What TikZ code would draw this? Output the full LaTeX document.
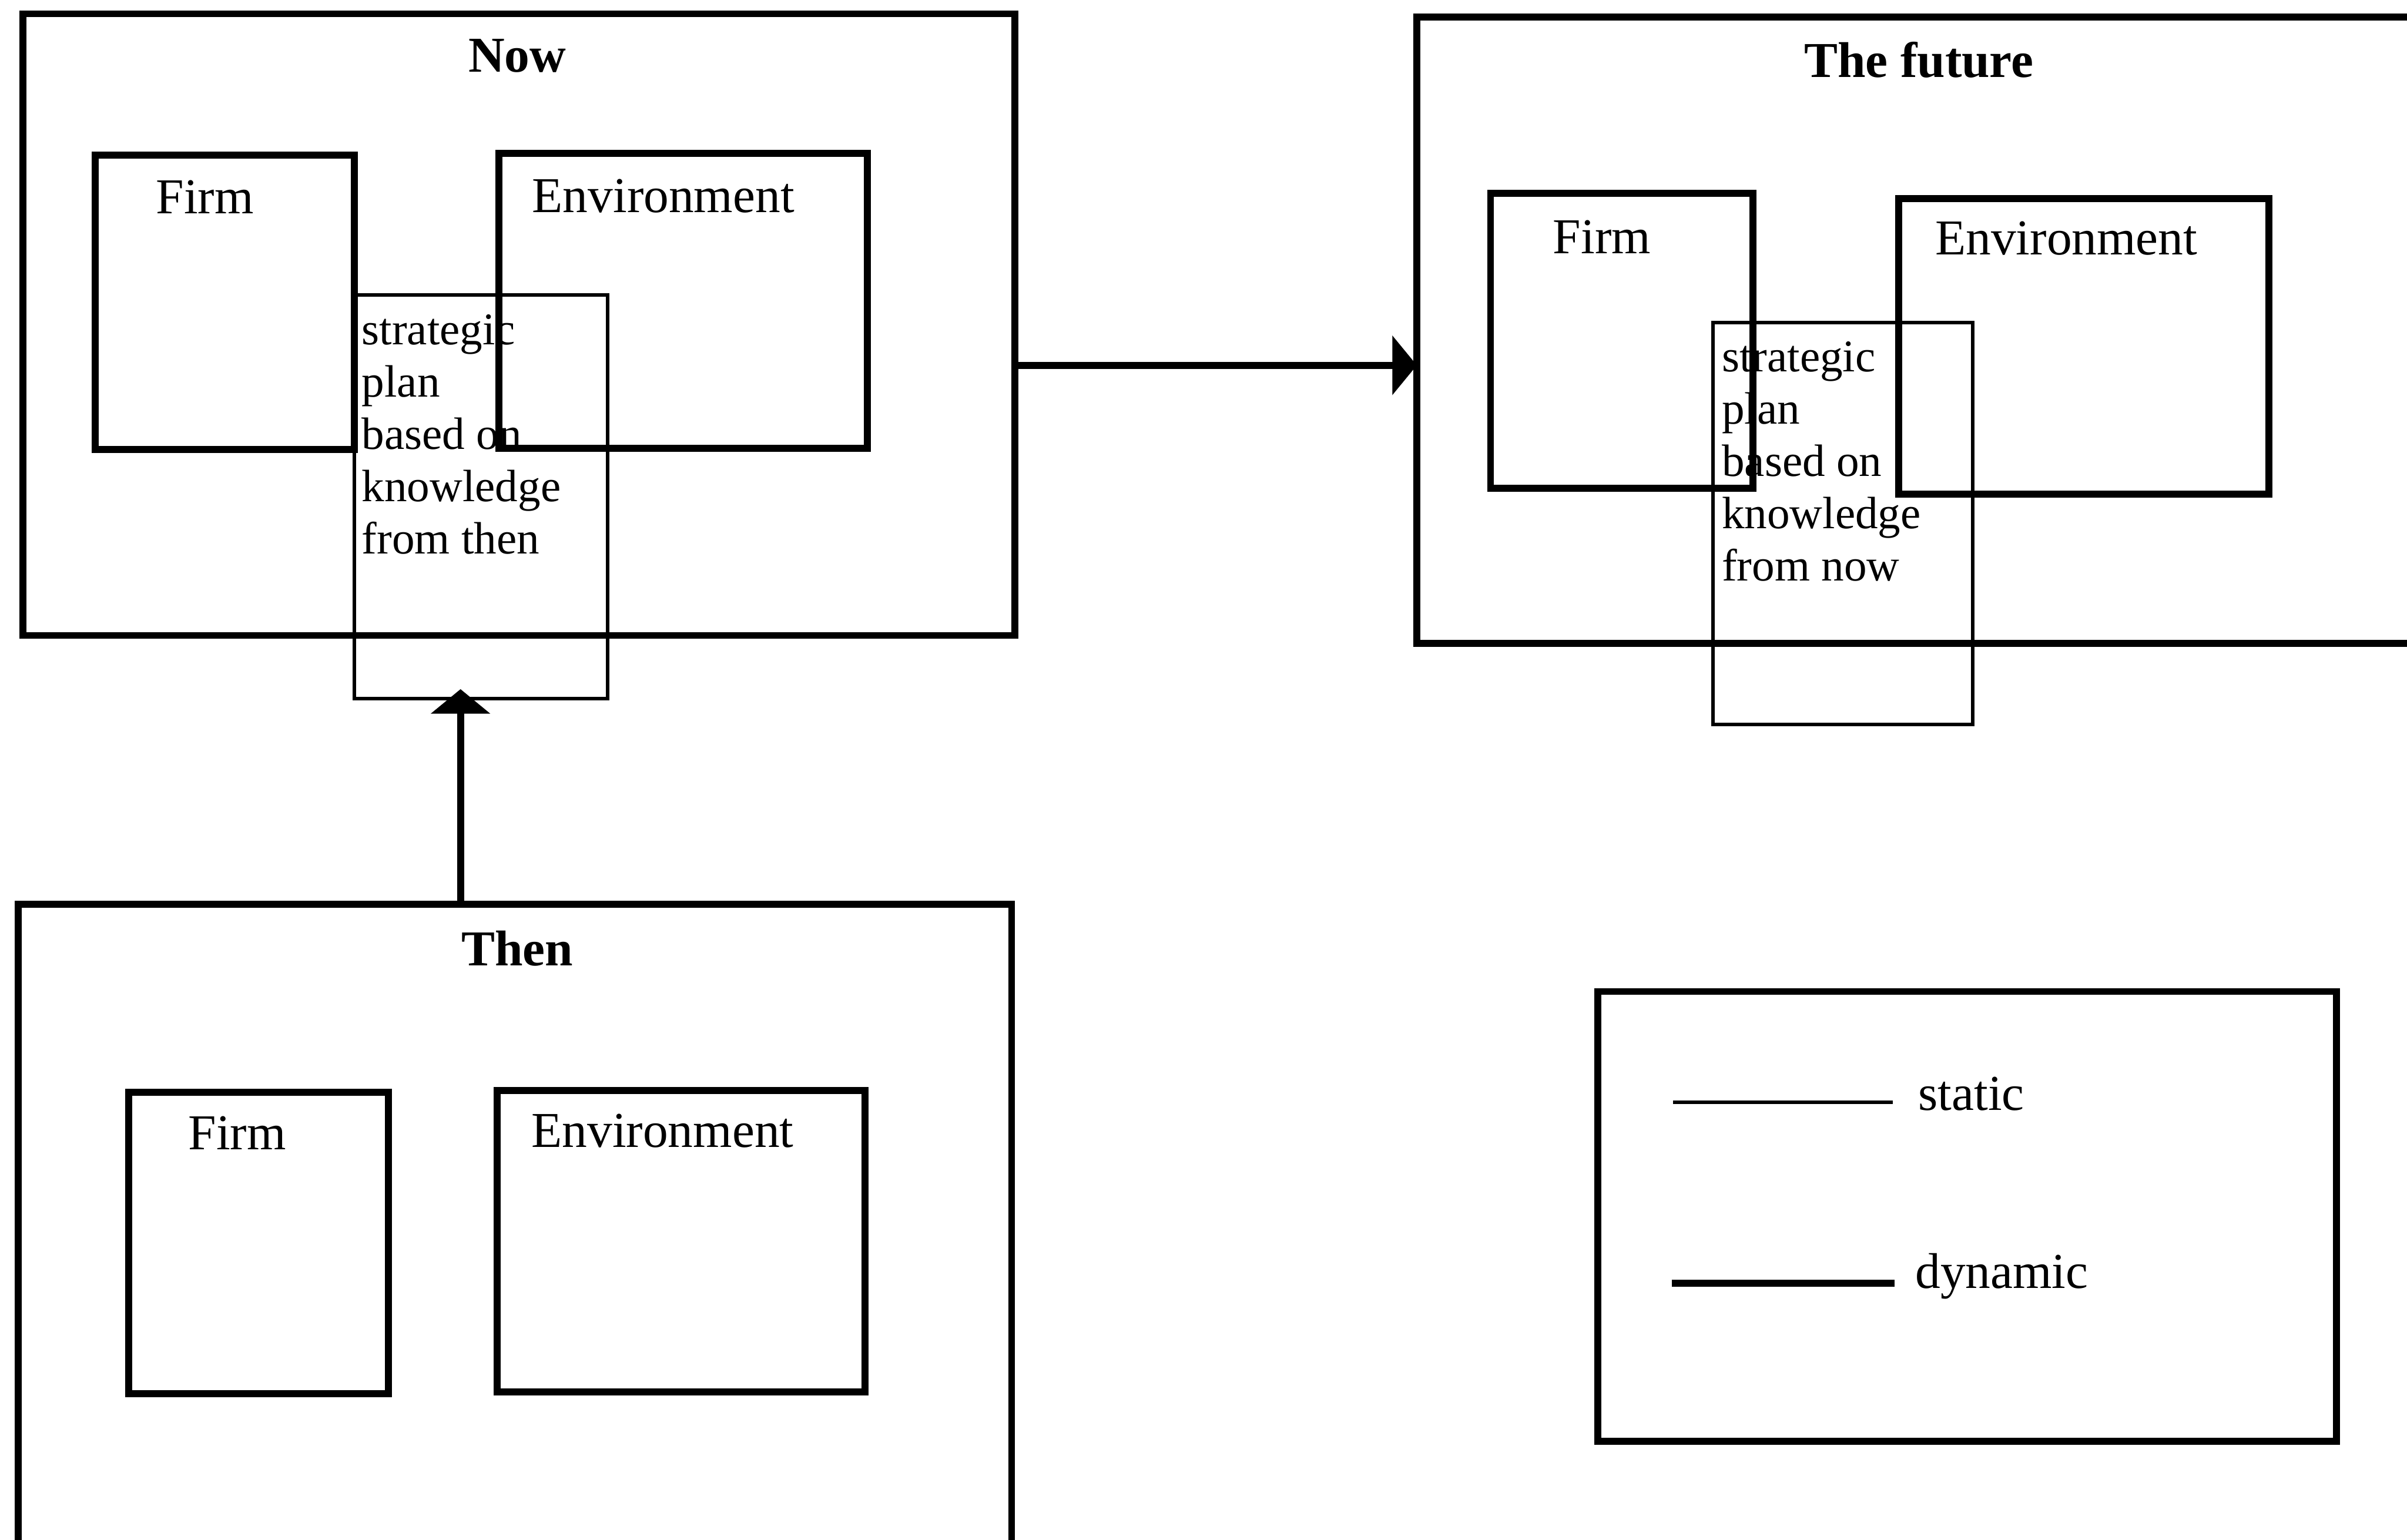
\documentclass[tikz,border=0pt]{standalone}
\usepackage{fontspec}
\setmainfont{Liberation Serif}
\usetikzlibrary{arrows.meta,fit,calc}
\begin{document}
\begin{tikzpicture}[x=0.01cm,y=-0.01cm,
  thickline/.style={line width=1.3pt},
  thinline/.style={line width=0.65pt},
  frame/.style={draw,thickline,inner sep=0pt,outer sep=0pt},
  planbox/.style={draw,thinline,inner sep=0pt,outer sep=0pt},
  title/.style={font=\fontsize{9.3}{11}\selectfont\bfseries,inner sep=0pt,anchor=base},
  label/.style={font=\fontsize{9.3}{11}\selectfont,inner sep=0pt,anchor=base west},
  plantext/.style={font=\fontsize{8.4}{9.7}\selectfont,inner sep=0pt,anchor=base west},
  flow/.style={thickline,-{Triangle[length=0.16cm,width=0.38cm]}}
]
\useasboundingbox (0,0) rectangle (1568,1003);
\clip (0,0) rectangle (1568,1003);

% ---- Now ----
\node[frame,fit={(15,9) (661,414)}] (now) {};
\node[title] (nowtitle) at (337,47) {Now};
\node[frame,fit={(62,101) (231,293)}] (nowfirm) {};
\node[frame,fit={(325,100) (565,292)}] (nowenv) {};
\node[label] (nowfirmlbl) at (101,139) {Firm};
\node[label] (nowenvlbl) at (346,138.5) {Environment};
\node[planbox,fit={(231,192) (396,455)}] (nowplan) {};
\node[plantext] (nowplantext) at (235,224.5)
  {\parbox[t]{3cm}{\raggedright strategic\\plan\\based on\\knowledge\\from then}};

% ---- The future ----
\node[frame,fit={(923,11) (1620,419)}] (future) {};
\node[title] (futuretitle) at (1250,50.5) {The future};
\node[frame,fit={(971,126) (1142,318)}] (futfirm) {};
\node[frame,fit={(1237,129.5) (1478,322)}] (futenv) {};
\node[label] (futfirmlbl) at (1011,165) {Firm};
\node[label] (futenvlbl) at (1260,166) {Environment};
\node[planbox,fit={(1116,210) (1285,472)}] (futplan) {};
\node[plantext] (futplantext) at (1121,242)
  {\parbox[t]{3cm}{\raggedright strategic\\plan\\based on\\knowledge\\from now}};

% ---- Then ----
\node[frame,fit={(12,589) (659,1040)}] (then) {};
\node[title] (thentitle) at (337,629) {Then};
\node[frame,fit={(84,711.5) (253,908)}] (thenfirm) {};
\node[frame,fit={(324,710.5) (563.5,907)}] (thenenv) {};
\node[label] (thenfirmlbl) at (122,749) {Firm};
\node[label] (thenenvlbl) at (345.5,747.5) {Environment};

% ---- connectors ----
\coordinate (ay) at (0,238);
\coordinate (ux) at (300,0);
\draw[flow] (now.east |- ay) -- (future.west |- ay);
\draw[flow] (ux |- then.north) -- ($(ux |- nowplan.south)+(0,-6)$);

% ---- legend ----
\node[frame,fit={(1041,646) (1522,939)}] (legend) {};
\node[label] (legstatic) at (1249,723.5) {static};
\node[label] (legdynamic) at (1247,839.5) {dynamic};
\draw[thinline] (1090,718) -- (1233,718);
\draw[thickline] (1089,836) -- (1234,836);
\end{tikzpicture}
\end{document}
